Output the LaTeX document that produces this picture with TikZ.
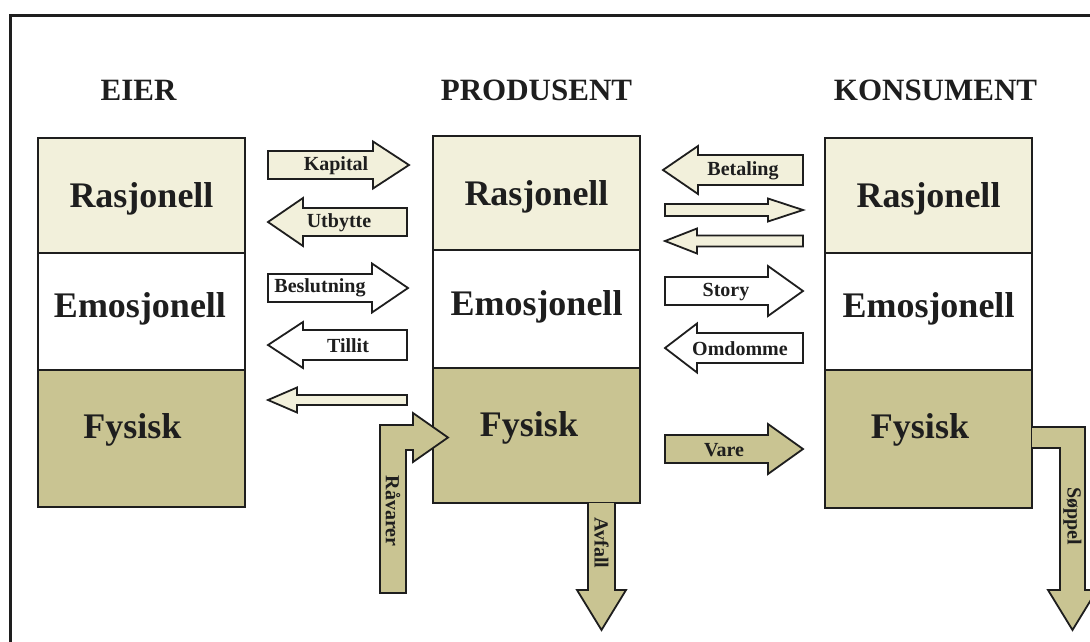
\documentclass[tikz,border=0pt]{standalone}
\usepackage{fontspec}
\setmainfont{Liberation Serif}
\definecolor{cream}{RGB}{242,240,219}
\definecolor{khaki}{RGB}{201,196,146}
\definecolor{ink}{RGB}{30,30,30}
\newcommand{\blockarr}[7]{%
  \draw[#1] (#2,#5-#6) -- (#3,#5-#6) -- (#3,#5-#7) -- (#4,#5) -- (#3,#5+#7) -- (#3,#5+#6) -- (#2,#5+#6) -- cycle;}
\begin{document}
\begin{tikzpicture}[x=1pt,y=-1pt,
  sec/.style={draw=ink, line width=2.5pt, minimum width=207pt, inner sep=0pt},
  arr/.style={draw=ink, line width=1.8pt, line join=miter},
  ttl/.style={font=\fontsize{31}{34}\selectfont\bfseries, text=ink, anchor=base, inner sep=0pt},
  lbl/.style={font=\fontsize{36}{40}\selectfont\bfseries, text=ink, anchor=base, inner sep=0pt},
  alb/.style={font=\fontsize{20}{22}\selectfont\bfseries, text=ink, inner sep=0pt}]
\clip (0,0) rectangle (1090,641);
\fill[white] (0,0) rectangle (1090,641);
% outer frame
\draw[ink, line width=3pt] (10,645) -- (10,15) -- (1095,15);

% titles
\node[ttl] (tE) at (138.5,100) {EIER};
\node[ttl] (tP) at (536.5,100) {PRODUSENT};
\node[ttl] (tK) at (935.5,100) {KONSUMENT};

% EIER box
\node[sec, fill=cream, minimum height=115pt] (eR) at (141.5,195.5) {};
\node[sec, fill=white, minimum height=117pt] (eE) at (141.5,311.5) {};
\node[sec, fill=khaki, minimum height=137pt] (eF) at (141.5,438.5) {};
% PRODUSENT box
\node[sec, fill=cream, minimum height=114pt] (pR) at (536.5,193) {};
\node[sec, fill=white, minimum height=118pt] (pE) at (536.5,309) {};
\node[sec, fill=khaki, minimum height=135pt] (pF) at (536.5,435.5) {};
% KONSUMENT box
\node[sec, fill=cream, minimum height=115pt] (kR) at (928.5,195.5) {};
\node[sec, fill=white, minimum height=117pt] (kE) at (928.5,311.5) {};
\node[sec, fill=khaki, minimum height=138pt] (kF) at (928.5,439) {};

% section labels
\node[lbl] (leR) at (141.5,207) {Rasjonell};
\node[lbl] (leE) at (140,317) {Emosjonell};
\node[lbl] (leF) at (132.5,438) {Fysisk};
\node[lbl] (lpR) at (536.5,205) {Rasjonell};
\node[lbl] (lpE) at (536.5,315) {Emosjonell};
\node[lbl] (lpF) at (529,436) {Fysisk};
\node[lbl] (lkR) at (928.5,207) {Rasjonell};
\node[lbl] (lkE) at (928.5,317) {Emosjonell};
\node[lbl] (lkF) at (920,438) {Fysisk};

% left column arrows
\blockarr{arr, fill=cream}{268}{373}{409}{165}{14}{23.5}
\node[alb] (aKap) at (336,166) {Kapital};
\blockarr{arr, fill=cream}{407}{303}{268}{222}{14}{24}
\node[alb] (aUtb) at (339,223) {Utbytte};
\blockarr{arr, fill=white}{268}{372}{408}{288}{14}{24.5}
\node[alb] (aBes) at (320,288) {Beslutning};
\blockarr{arr, fill=white}{407}{303}{268}{345}{15}{23}
\node[alb] (aTil) at (348,346) {Tillit};
\blockarr{arr, fill=cream}{407}{297}{268}{400}{5}{12.5}

% right column arrows
\blockarr{arr, fill=cream}{803}{698}{663}{170}{15}{24}
\node[alb] (aBet) at (743,171) {Betaling};
\blockarr{arr, fill=cream}{665}{768}{803}{210}{6}{11.5}
\blockarr{arr, fill=cream}{803}{697}{665}{241}{5.5}{12.5}
\blockarr{arr, fill=white}{665}{768}{803}{291}{14}{25}
\node[alb] (aSto) at (726,292) {Story};
\blockarr{arr, fill=white}{803}{697}{665}{348}{15}{24.5}
\node[alb] (aOmd) at (740,349) {Omdomme};
\blockarr{arr, fill=khaki}{665}{768}{803}{449}{14}{25}
\node[alb] (aVar) at (724,450) {Vare};

% Raavarer bent arrow
\draw[arr, fill=khaki] (380,593) -- (380,425) -- (413,425) -- (413,413) -- (448,437.5)
  -- (413,462) -- (413,450) -- (406,450) -- (406,593) -- cycle;
\node[alb, rotate=-90] (aRaa) at (393,511) {Råvarer};

% Avfall arrow
\draw[arr, fill=khaki] (588,503) -- (588,590) -- (577,590) -- (601.5,630) -- (626,590)
  -- (615,590) -- (615,503);
\node[alb, rotate=-90] (aAvf) at (601.5,543) {Avfall};

% Soppel bent arrow
\draw[arr, fill=khaki] (1032,427) -- (1085,427) -- (1085,590) -- (1097,590) -- (1072.5,630)
  -- (1048,590) -- (1060,590) -- (1060,448) -- (1032,448);
\node[alb, rotate=-90] (aSop) at (1072.5,516) {Søppel};
\end{tikzpicture}
\end{document}
